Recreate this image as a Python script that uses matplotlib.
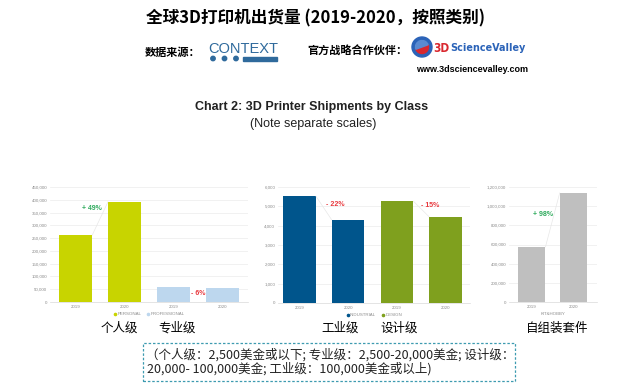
import matplotlib
matplotlib.use("Agg")
import matplotlib.pyplot as plt
from matplotlib import font_manager
from matplotlib.font_manager import FontProperties
from matplotlib.lines import Line2D
from matplotlib.patches import Rectangle, Wedge, Circle

plt.rcParams["font.family"] = ["Noto Sans CJK SC", "DejaVu Sans"]

# Data (units shipped)
years = ["2019", "2020"]
personal = [262000, 392000]
professional = [60000, 56500]
industrial = [5520, 4310]
design = [5260, 4460]
kit_hobby = [575000, 1138000]

c_personal = "#c8d400"
c_prof = "#bdd7ee"
c_ind = "#00558c"
c_design = "#7fa01e"
c_kit = "#bfbfbf"
c_up = "#2eaa5c"
c_down = "#e8383d"
tick_c = "#8c8c8c"

W, H = 644, 389
fig = plt.figure(figsize=(W / 100, H / 100), dpi=100)


def add_ax(left, right, bottom, top):
    return fig.add_axes([left / W, 1 - bottom / H, (right - left) / W, (bottom - top) / H])


def style(ax, ymax, step):
    ax.set_ylim(0, ymax)
    ticks = list(range(0, ymax + 1, step))
    ax.set_yticks(ticks)
    ax.set_yticklabels([f"{t:,}" for t in ticks], fontsize=3.2, color=tick_c,
                       family="Liberation Sans")
    ax.grid(axis="y", color="#ececec", linewidth=0.5)
    ax.set_axisbelow(True)
    for s in ax.spines.values():
        s.set_visible(False)
    ax.spines["bottom"].set_visible(True)
    ax.spines["bottom"].set_color("#d9d9d9")
    ax.spines["bottom"].set_linewidth(0.5)
    ax.tick_params(length=0, pad=2)
    for lab in ax.get_xticklabels():
        lab.set_fontsize(3.2)
        lab.set_color(tick_c)
        lab.set_family("Liberation Sans")


def legend(ax, items, y=-0.065):
    handles = [Line2D([], [], marker="o", linestyle="", markersize=1.6, color=c, label=l)
               for l, c in items]
    leg = ax.legend(handles=handles, loc="upper center", bbox_to_anchor=(0.5, y), ncol=len(items),
                    frameon=False, handletextpad=0.1, columnspacing=1.2, handlelength=0.8,
                    borderpad=0.1, prop={"family": "Liberation Sans", "size": 3.2})
    for t in leg.get_texts():
        t.set_color(tick_c)


def pct(ax, x, y, text, color, box=False):
    kw = dict(ha="center", va="center", fontsize=5, color=color, fontweight="bold",
              family="Liberation Sans")
    if box:
        kw["bbox"] = dict(facecolor="white", edgecolor="none", pad=0.8)
    ax.text(x, y, text, **kw)


# Panel 1: personal / professional
ax1 = add_ax(50, 248, 302, 187)
ax1.bar([0, 1], personal, width=0.67, color=c_personal)
ax1.bar([2, 3], professional, width=0.67, color=c_prof)
ax1.set_xlim(-0.52, 3.51)
ax1.set_xticks([0, 1, 2, 3])
ax1.set_xticklabels(years * 2)
style(ax1, 450000, 50000)
ax1.plot([0.34, 0.66], [personal[0], personal[1]], color="#e8e8e8", linewidth=0.5, zorder=1)
pct(ax1, 0.33, 364000, "+ 49%", c_up)
pct(ax1, 2.49, 35000, "- 6%", c_down, box=True)
legend(ax1, [("PERSONAL", c_personal), ("PROFESSIONAL", c_prof)])

# Panel 2: industrial / design
ax2 = add_ax(278, 470, 303, 187)
ax2.bar([0, 1], industrial, width=0.67, color=c_ind)
ax2.bar([2, 3], design, width=0.67, color=c_design)
ax2.set_xlim(-0.44, 3.5)
ax2.set_xticks([0, 1, 2, 3])
ax2.set_xticklabels(years * 2)
style(ax2, 6000, 1000)
ax2.plot([0.34, 0.66], [industrial[0], industrial[1]], color="#e8e8e8", linewidth=0.5, zorder=1)
ax2.plot([2.34, 2.66], [design[0], design[1]], color="#e8e8e8", linewidth=0.5, zorder=1)
pct(ax2, 0.73, 5070, "- 22%", c_down)
pct(ax2, 2.68, 5020, "- 15%", c_down)
legend(ax2, [("INDUSTRIAL", c_ind), ("DESIGN", c_design)])

# Panel 3: kit & hobby
ax3 = add_ax(509, 597, 302, 187)
ax3.bar([0, 1], kit_hobby, width=0.65, color=c_kit)
ax3.set_xlim(-0.54, 1.56)
ax3.set_xticks([0, 1])
ax3.set_xticklabels(years)
style(ax3, 1200000, 200000)
ax3.plot([0.33, 0.67], [kit_hobby[0], kit_hobby[1]], color="#e8e8e8", linewidth=0.5, zorder=1)
pct(ax3, 0.27, 908000, "+ 98%", c_up)
ax3.text(0.5, -0.085, "KIT&HOBBY", transform=ax3.transAxes, ha="center", va="top",
         fontsize=3.2, color=tick_c, family="Liberation Sans")


def ftext(x, y, s, **kw):
    return fig.text(x / W, 1 - y / H, s, **kw)


# Chinese class labels
for x, s in [(119, "个人级"), (177, "专业级"), (340, "工业级"), (399, "设计级"), (557, "自组装套件")]:
    ftext(x, 328, s, ha="center", va="center", fontsize=9, color="black")

# Titles
ftext(315, 18, "全球3D打印机出货量 (2019-2020，按照类别)", ha="center", va="center",
      fontsize=12, fontweight="bold")
ftext(312, 107, "Chart 2: 3D Printer Shipments by Class", ha="center", va="center",
      fontsize=9, fontweight="bold", family="Liberation Sans", color="#222222")
ftext(313, 124, "(Note separate scales)", ha="center", va="center",
      fontsize=9, family="Liberation Sans", color="#222222")

# Source line
logo_blue = "#2f6a9c"
ftext(173, 52, "数据来源：", ha="center", va="center", fontsize=8, fontweight="bold")
ftext(243, 49, "CONTEXT", ha="center", va="center", fontsize=10.5, color=logo_blue,
      family="Liberation Sans")
for cx in [213, 224.5, 236]:
    fig.add_artist(Circle((cx / 100, (H - 58.5) / 100), 0.022, transform=fig.dpi_scale_trans,
                          color=logo_blue))
fig.add_artist(Rectangle((243 / W, 1 - 61 / H), 34 / W, 4 / H, transform=fig.transFigure,
                         color=logo_blue))

ftext(357, 51, "官方战略合作伙伴：", ha="center", va="center", fontsize=8, fontweight="bold")
# 3D Science Valley logo mark (inch coords keep it round)
sv_blue = "#2b63b8"
sv_red = "#d9272e"
cxy = (422 / 100, (H - 47) / 100)
inch = fig.dpi_scale_trans
fig.add_artist(Wedge(cxy, 0.10, 0, 360, width=0.035, transform=inch, color=sv_blue))
fig.add_artist(Wedge(cxy, 0.065, 200, 20, transform=inch, color=sv_red))
fig.add_artist(Wedge(cxy, 0.065, 20, 200, transform=inch, color="#5a8ad0"))

# pick a condensed bold face if one is installed
cond = [f for f in font_manager.fontManager.ttflist
        if ("Narrow" in f.name or "Condensed" in f.name or f.stretch in ("condensed", "semi-condensed"))
        and f.weight in ("bold", 700)]
if cond:
    base_fp = dict(fname=cond[0].fname)
else:
    base_fp = dict(family="Liberation Sans", weight="bold")

renderer = fig.canvas.get_renderer()


def fit_text(x0, x1, y, s, color, size=12):
    # shrink the font until the word fills the span x0..x1 (pixels)
    t = ftext(x0, y, s, ha="left", va="center", color=color,
              fontproperties=FontProperties(size=size, **base_fp))
    w = t.get_window_extent(renderer).width
    t.set_fontproperties(FontProperties(size=size * (x1 - x0) / w, **base_fp))
    return t


fit_text(433, 449, 48, "3D", sv_red)
fit_text(450, 525, 48, "ScienceValley", sv_blue)
ftext(472, 69, "www.3dsciencevalley.com", ha="center", va="center", fontsize=6.5,
      fontweight="bold", family="Liberation Sans")

# Note box
fig.add_artist(Rectangle((143 / W, 1 - 381 / H), 372 / W, 38 / H, transform=fig.transFigure,
                         fill=False, edgecolor="#3d9bb0", linestyle=(0, (2, 1.5)),
                         linewidth=0.9))
ftext(146, 355, "（个人级：2,500美金或以下; 专业级：2,500-20,000美金; 设计级：",
      ha="left", va="center", fontsize=9, color="#222222")
ftext(147, 369, "20,000- 100,000美金; 工业级：100,000美金或以上)",
      ha="left", va="center", fontsize=9, color="#222222")

fig.savefig("out.png", dpi=100)
